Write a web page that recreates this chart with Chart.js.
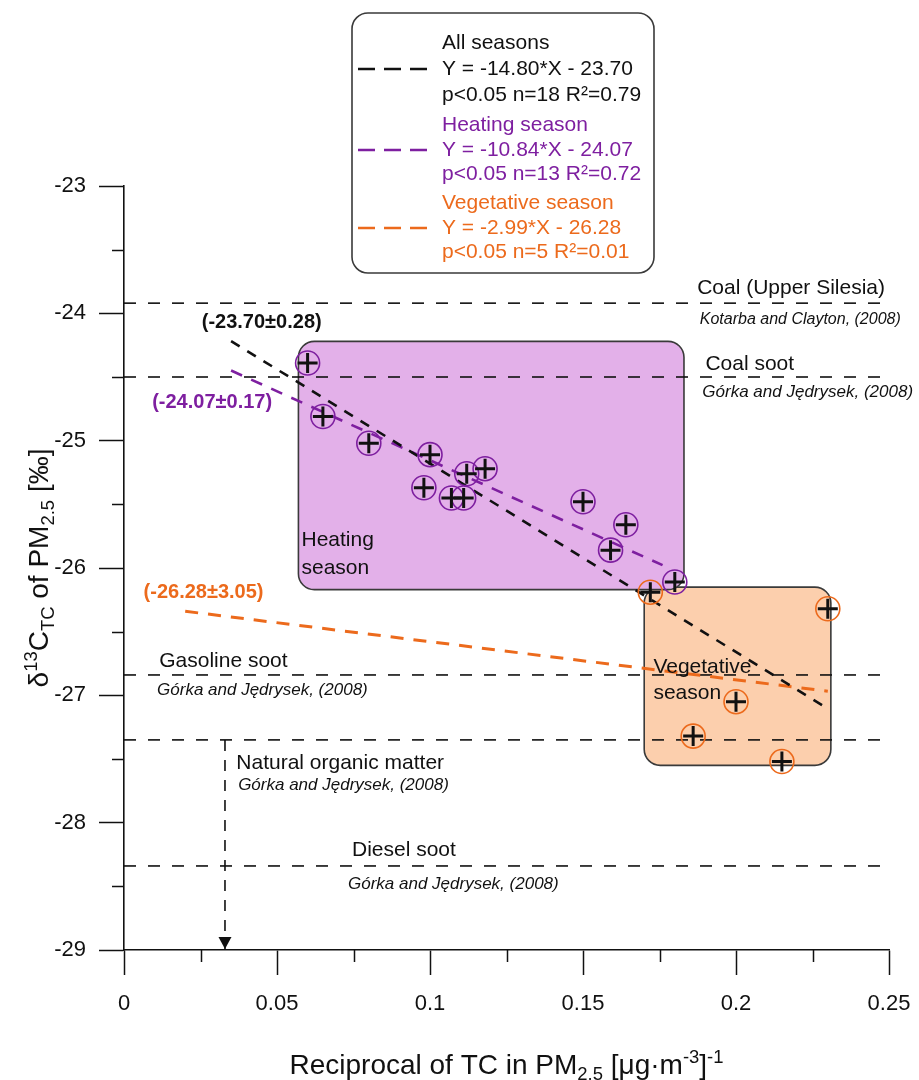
<!DOCTYPE html>
<html>
<head>
<meta charset="utf-8">
<script src="https://cdn.jsdelivr.net/npm/chart.js@4/dist/chart.umd.min.js"></script>
<style>
  html, body { margin: 0; padding: 0; background: #fff; }
  #wrap { width: 919px; height: 1080px; }
</style>
</head>
<body>
<div id="wrap"><canvas id="chart" width="919" height="1080"></canvas></div>
<script>
// δ13C of total carbon in PM2.5 vs. reciprocal TC concentration (Keeling-type plot)

// Samples, heating season
const heatingX = [0.060, 0.065, 0.080, 0.100, 0.098, 0.107, 0.111, 0.112, 0.118, 0.150, 0.164, 0.159, 0.180];
const heatingY = [-24.39, -24.81, -25.02, -25.11, -25.37, -25.45, -25.45, -25.26, -25.22, -25.48, -25.66, -25.86, -26.11];

// Samples, vegetative season
const vegetativeX = [0.172, 0.230, 0.200, 0.186, 0.215];
const vegetativeY = [-26.19, -26.32, -27.05, -27.32, -27.52];

// Linear fits: all seasons, heating season, vegetative season
const fitNames = ['All seasons', 'Heating season', 'Vegetative season'];
const fitSlopes = [-14.80, -10.84, -2.99];
const fitIntercepts = [-23.70, -24.07, -26.28];
const fitInterceptSE = [0.28, 0.17, 3.05];
const fitN = [18, 13, 5];
const fitR2 = ['0.79', '0.72', '0.01'];
const fitXStart = [0.035, 0.035, 0.020];
const fitXEnd = [0.230, 0.176, 0.230];

// Source end-members (Kotarba and Clayton 2008; Górka and Jędrysek 2008)
const sourceNames = ['Coal (Upper Silesia)', 'Coal soot', 'Gasoline soot', 'Natural organic matter', 'Diesel soot'];
const sourceRefs = ['Kotarba and Clayton, (2008)', 'Górka and Jędrysek, (2008)', 'Górka and Jędrysek, (2008)', 'Górka and Jędrysek, (2008)', 'Górka and Jędrysek, (2008)'];
const sourceLevels = [-23.92, -24.50, -26.84, -27.35, -28.34];
const sourceXRange = [0, 0.248];
const arrowX = 0.033;

// Season regions [xMin, xMax, yTop, yBottom]
const heatingBox = [0.057, 0.183, -24.22, -26.17];
const vegetativeBox = [0.170, 0.231, -26.15, -27.55];

// Axis ticks
const xTickValues = [0, 0.05, 0.1, 0.15, 0.2, 0.25];
const xTickLabels = ['0', '0.05', '0.1', '0.15', '0.2', '0.25'];
const xMinorTicks = [0.025, 0.075, 0.125, 0.175, 0.225];
const yTickValues = [-29, -28, -27, -26, -25, -24, -23];
const yTickLabels = ['-29', '-28', '-27', '-26', '-25', '-24', '-23'];
const yMinorTicks = [-28.5, -27.5, -26.5, -25.5, -24.5, -23.5];

const FONT = '"Liberation Sans", Arial, Helvetica, sans-serif';
const BLACK = '#111111';
const PURPLE = '#7e1fa0';
const ORANGE = '#ec6a1c';
const HEAT_FILL = '#e3b0e9';
const VEG_FILL = '#fccfad';
const fitColors = [BLACK, PURPLE, ORANGE];
const fitDash = [[10, 9], [12, 10], [13, 10]];

const pts = (xs, ys) => xs.map((x, i) => ({ x, y: ys[i] }));

const datasets = [];

// end-member reference lines
sourceLevels.forEach((lvl) => {
  datasets.push({
    type: 'line', showLine: true, order: 20,
    data: [{ x: sourceXRange[0], y: lvl }, { x: sourceXRange[1], y: lvl }],
    borderColor: BLACK, borderWidth: 1.6, borderDash: [12, 12],
    pointRadius: 0, fill: false
  });
});

// natural organic matter arrow shaft
datasets.push({
  type: 'line', showLine: true, order: 20,
  data: [{ x: arrowX, y: sourceLevels[3] }, { x: arrowX, y: -29 }],
  borderColor: BLACK, borderWidth: 1.6, borderDash: [11, 9],
  pointRadius: 0, fill: false
});

// regression lines
fitSlopes.forEach((m, i) => {
  const b = fitIntercepts[i];
  datasets.push({
    type: 'line', showLine: true, order: 10,
    data: [
      { x: fitXStart[i], y: m * fitXStart[i] + b },
      { x: fitXEnd[i], y: m * fitXEnd[i] + b }
    ],
    borderColor: fitColors[i], borderWidth: i === 2 ? 3 : 2.6, borderDash: fitDash[i],
    pointRadius: 0, fill: false
  });
});

// sample markers: coloured ring + black cross
function markerSets(xs, ys, ring) {
  return [
    {
      type: 'scatter', order: 2, data: pts(xs, ys),
      pointStyle: 'circle', pointRadius: 12, pointBorderWidth: 1.6,
      pointBorderColor: ring, pointBackgroundColor: 'rgba(0,0,0,0)'
    },
    {
      type: 'scatter', order: 1, data: pts(xs, ys),
      pointStyle: 'cross', pointRadius: 10, pointBorderWidth: 3,
      pointBorderColor: BLACK, pointBackgroundColor: BLACK
    }
  ];
}
datasets.push(...markerSets(heatingX, heatingY, PURPLE));
datasets.push(...markerSets(vegetativeX, vegetativeY, ORANGE));

function roundRect(ctx, x, y, w, h, r) {
  ctx.beginPath();
  ctx.moveTo(x + r, y);
  ctx.lineTo(x + w - r, y);
  ctx.arcTo(x + w, y, x + w, y + r, r);
  ctx.lineTo(x + w, y + h - r);
  ctx.arcTo(x + w, y + h, x + w - r, y + h, r);
  ctx.lineTo(x + r, y + h);
  ctx.arcTo(x, y + h, x, y + h - r, r);
  ctx.lineTo(x, y + r);
  ctx.arcTo(x, y, x + r, y, r);
  ctx.closePath();
}

// text with super/subscript runs: [text, 'n'|'sup'|'sub']
function richWidth(ctx, segs, size, style) {
  let w = 0;
  segs.forEach(([t, k]) => {
    const s = k === 'n' ? size : size * 0.66;
    ctx.font = `${style} ${s}px ${FONT}`;
    w += ctx.measureText(t).width;
  });
  return w;
}
function drawRich(ctx, segs, cx, cy, size, style, color) {
  const w = richWidth(ctx, segs, size, style);
  let x = cx - w / 2;
  ctx.fillStyle = color;
  ctx.textBaseline = 'alphabetic';
  ctx.textAlign = 'left';
  const base = cy + size * 0.36;
  segs.forEach(([t, k]) => {
    const s = k === 'n' ? size : size * 0.66;
    ctx.font = `${style} ${s}px ${FONT}`;
    let y = base;
    if (k === 'sup') y = base - size * 0.38;
    if (k === 'sub') y = base + size * 0.2;
    ctx.fillText(t, x, y);
    x += ctx.measureText(t).width;
  });
}

const boxesPlugin = {
  id: 'seasonBoxes',
  beforeDatasetsDraw(chart) {
    const { ctx, scales: { x, y } } = chart;
    [[vegetativeBox, VEG_FILL], [heatingBox, HEAT_FILL]].forEach(([b, fill]) => {
      const x0 = x.getPixelForValue(b[0]), x1 = x.getPixelForValue(b[1]);
      const y0 = y.getPixelForValue(b[2]), y1 = y.getPixelForValue(b[3]);
      ctx.save();
      roundRect(ctx, x0, y0, x1 - x0, y1 - y0, 16);
      ctx.fillStyle = fill;
      ctx.fill();
      ctx.lineWidth = 1.6;
      ctx.strokeStyle = '#3a3a3a';
      ctx.stroke();
      ctx.restore();
    });
  }
};

// text labels placed in data coordinates
const labelItems = [
  { t: sourceNames[0], x: 0.218, y: -23.80, align: 'center', size: 21, style: '', color: BLACK },
  { t: sourceRefs[0], x: 0.221, y: -24.05, align: 'center', size: 16, style: 'italic', color: BLACK },
  { t: sourceNames[1], x: 0.190, y: -24.40, align: 'left', size: 21, style: '', color: BLACK },
  { t: sourceRefs[1], x: 0.189, y: -24.62, align: 'left', size: 17, style: 'italic', color: BLACK },
  { t: sourceNames[2], x: 0.0115, y: -26.73, align: 'left', size: 21, style: '', color: BLACK },
  { t: sourceRefs[2], x: 0.0108, y: -26.96, align: 'left', size: 17, style: 'italic', color: BLACK },
  { t: sourceNames[3], x: 0.0367, y: -27.53, align: 'left', size: 21, style: '', color: BLACK },
  { t: sourceRefs[3], x: 0.0373, y: -27.71, align: 'left', size: 17, style: 'italic', color: BLACK },
  { t: sourceNames[4], x: 0.0745, y: -28.22, align: 'left', size: 21, style: '', color: BLACK },
  { t: sourceRefs[4], x: 0.0732, y: -28.48, align: 'left', size: 17, style: 'italic', color: BLACK },
  { t: 'Heating', x: 0.058, y: -25.78, align: 'left', size: 21, style: '', color: BLACK },
  { t: 'season', x: 0.058, y: -26.00, align: 'left', size: 21, style: '', color: BLACK },
  { t: 'Vegetative', x: 0.173, y: -26.78, align: 'left', size: 21, style: '', color: BLACK },
  { t: 'season', x: 0.173, y: -26.98, align: 'left', size: 21, style: '', color: BLACK },
  { t: `(${fitIntercepts[0].toFixed(2)}±${fitInterceptSE[0].toFixed(2)})`, x: 0.045, y: -24.07, align: 'center', size: 20, style: 'bold', color: BLACK },
  { t: `(${fitIntercepts[1].toFixed(2)}±${fitInterceptSE[1].toFixed(2)})`, x: 0.0288, y: -24.70, align: 'center', size: 20, style: 'bold', color: PURPLE },
  { t: `(${fitIntercepts[2].toFixed(2)}±${fitInterceptSE[2].toFixed(2)})`, x: 0.026, y: -26.19, align: 'center', size: 20, style: 'bold', color: ORANGE }
];

const annotationPlugin = {
  id: 'annotations',
  afterDatasetsDraw(chart) {
    const { ctx, scales: { x, y } } = chart;
    ctx.save();
    labelItems.forEach((it) => {
      ctx.font = `${it.style} ${it.size}px ${FONT}`;
      ctx.fillStyle = it.color;
      ctx.textAlign = it.align;
      ctx.textBaseline = 'middle';
      ctx.fillText(it.t, x.getPixelForValue(it.x), y.getPixelForValue(it.y));
    });
    // arrow head on the natural organic matter marker
    const ax = x.getPixelForValue(arrowX), ay = y.getPixelForValue(-29);
    ctx.beginPath();
    ctx.moveTo(ax - 6.5, ay - 13);
    ctx.lineTo(ax + 6.5, ay - 13);
    ctx.lineTo(ax, ay - 1);
    ctx.closePath();
    ctx.fillStyle = BLACK;
    ctx.fill();
    ctx.restore();
  }
};

const decorPlugin = {
  id: 'decor',
  afterDraw(chart) {
    const { ctx, chartArea: ca, scales: { x, y } } = chart;
    ctx.save();
    // minor ticks
    ctx.strokeStyle = BLACK;
    ctx.lineWidth = 1.5;
    ctx.beginPath();
    xMinorTicks.forEach((v) => {
      const px = Math.round(x.getPixelForValue(v)) + 0.5;
      ctx.moveTo(px, ca.bottom);
      ctx.lineTo(px, ca.bottom + 12);
    });
    yMinorTicks.forEach((v) => {
      const py = Math.round(y.getPixelForValue(v)) + 0.5;
      ctx.moveTo(ca.left - 12, py);
      ctx.lineTo(ca.left, py);
    });
    ctx.stroke();

    // axis titles
    drawRich(ctx, [['Reciprocal of TC in PM', 'n'], ['2.5', 'sub'], [' [μg·m', 'n'], ['-3', 'sup'], [']', 'n'], ['-1', 'sup']],
      (ca.left + ca.right) / 2, 1064, 28, '', BLACK);
    ctx.save();
    ctx.translate(38, (ca.top + ca.bottom) / 2);
    ctx.rotate(-Math.PI / 2);
    drawRich(ctx, [['δ', 'n'], ['13', 'sup'], ['C', 'n'], ['TC', 'sub'], [' of PM', 'n'], ['2.5', 'sub'], [' [‰]', 'n']],
      0, 0, 28, '', BLACK);
    ctx.restore();

    // legend box
    const L = { x: 352, y: 13, w: 302, h: 260 };
    roundRect(ctx, L.x, L.y, L.w, L.h, 16);
    ctx.fillStyle = '#ffffff';
    ctx.fill();
    ctx.lineWidth = 1.6;
    ctx.strokeStyle = '#3a3a3a';
    ctx.stroke();
    const rows = [[43, 69, 95], [125, 150, 174], [203, 228, 252]];
    fitNames.forEach((name, i) => {
      const c = fitColors[i];
      const sign = fitIntercepts[i] < 0 ? '-' : '+';
      const lines = [
        name,
        `Y = ${fitSlopes[i].toFixed(2)}*X ${sign} ${Math.abs(fitIntercepts[i]).toFixed(2)}`,
        `p<0.05 n=${fitN[i]} R²=${fitR2[i]}`
      ];
      ctx.font = `21px ${FONT}`;
      ctx.fillStyle = c;
      ctx.textAlign = 'left';
      ctx.textBaseline = 'middle';
      lines.forEach((t, j) => ctx.fillText(t, 442, rows[i][j]));
      ctx.beginPath();
      ctx.setLineDash([17, 9]);
      ctx.lineWidth = 2.6;
      ctx.strokeStyle = c;
      ctx.moveTo(358, rows[i][1]);
      ctx.lineTo(428, rows[i][1]);
      ctx.stroke();
      ctx.setLineDash([]);
    });
    ctx.restore();
  }
};

const tickFont = { family: FONT, size: 22 };

new Chart(document.getElementById('chart'), {
  type: 'scatter',
  data: { datasets },
  options: {
    responsive: false,
    animation: false,
    events: [],
    layout: { autoPadding: false, padding: { top: 186, right: 30, left: 0, bottom: 0 } },
    plugins: { legend: { display: false }, tooltip: { enabled: false }, title: { display: false } },
    scales: {
      x: {
        type: 'linear', min: 0, max: 0.25,
        afterBuildTicks: (s) => { s.ticks = xTickValues.map((v) => ({ value: v })); },
        afterFit: (s) => { s.height = 130; s.paddingLeft = 0; s.paddingRight = 0; },
        ticks: { callback: (v, i) => xTickLabels[i], font: tickFont, color: BLACK, padding: 16, maxRotation: 0, autoSkip: false },
        grid: { drawOnChartArea: false, tickLength: 25, tickWidth: 1.5, tickColor: BLACK },
        border: { color: BLACK, width: 1.6 }
      },
      y: {
        type: 'linear', min: -29, max: -23,
        afterBuildTicks: (s) => { s.ticks = yTickValues.map((v) => ({ value: v })); },
        afterFit: (s) => { s.width = 124; s.paddingTop = 0; s.paddingBottom = 0; },
        ticks: { callback: (v, i) => yTickLabels[i], font: tickFont, color: BLACK, padding: 13, autoSkip: false },
        grid: { drawOnChartArea: false, tickLength: 25, tickWidth: 1.5, tickColor: BLACK },
        border: { color: BLACK, width: 1.6 }
      }
    }
  },
  plugins: [boxesPlugin, annotationPlugin, decorPlugin]
});
</script>
</body>
</html>
